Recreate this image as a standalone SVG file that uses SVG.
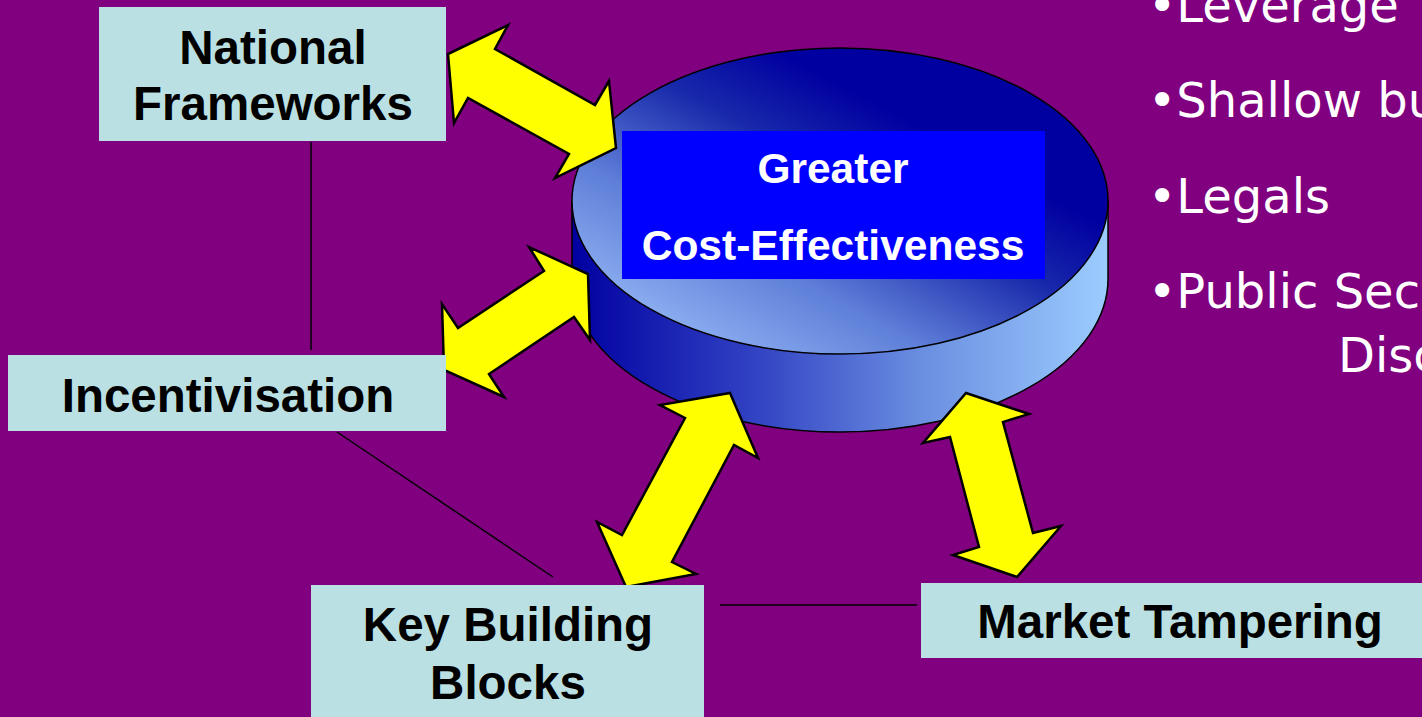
<svg xmlns="http://www.w3.org/2000/svg" width="1422" height="717" viewBox="0 0 1422 717">
<defs>
<linearGradient id="sideGrad" x1="572" y1="0" x2="1108" y2="0" gradientUnits="userSpaceOnUse">
<stop offset="0" stop-color="#0000A0"/>
<stop offset="0.35" stop-color="#3344C4"/>
<stop offset="0.65" stop-color="#6A8EE0"/>
<stop offset="1" stop-color="#9CCCFF"/>
</linearGradient>
<linearGradient id="topGrad" x1="730" y1="350" x2="880" y2="70" gradientUnits="userSpaceOnUse">
<stop offset="0" stop-color="#88AAEE"/>
<stop offset="0.3" stop-color="#5E7ED8"/>
<stop offset="0.65" stop-color="#1828AA"/>
<stop offset="0.9" stop-color="#0000A0"/>
</linearGradient>
<style>
.node rect{fill:#BBE0E3;stroke:none}
.lbl{font-family:"Liberation Sans",Arial,sans-serif;font-weight:bold;font-size:47.5px;fill:#000;text-anchor:middle}
.ctr{font-family:"Liberation Sans",Arial,sans-serif;font-weight:bold;font-size:42.5px;fill:#fff;text-anchor:middle}
.bul{font-family:"DejaVu Sans",Verdana,sans-serif;font-size:48px;fill:#fff}
.arrow{fill:#FFFF00;stroke:#000;stroke-width:2.5;stroke-linejoin:miter}
.conn{stroke:#000;stroke-width:1.5;fill:none}
</style>
</defs>
<rect x="0" y="0" width="1422" height="717" fill="#800080"/>

<g id="bullets">
<text class="bul" x="1148" y="22">•Leverage</text>
<text class="bul" x="1148" y="117">•Shallow bu</text>
<text class="bul" x="1148" y="213">•Legals</text>
<text class="bul" x="1148" y="308">•Public Sec</text>
<text class="bul" x="1338" y="372">Disc</text>
</g>

<g id="connectors">
<line class="conn" x1="311" y1="142" x2="311" y2="350"/>
<line class="conn" x1="337" y1="432" x2="553" y2="577"/>
<line class="conn" x1="720" y1="605" x2="917" y2="605"/>
</g>

<g id="cylinder">
<path d="M572,201 L572,279 A268,153 0 0 0 1108,279 L1108,201 Z" fill="url(#sideGrad)" stroke="#000" stroke-width="1.5"/>
<ellipse cx="840" cy="201" rx="268" ry="153" fill="url(#topGrad)" stroke="#000" stroke-width="1.5"/>
<rect x="622" y="131" width="423" height="148" fill="#0000FF"/>
<text class="ctr" x="833" y="183">Greater</text>
<text class="ctr" x="833" y="260">Cost-Effectiveness</text>
</g>

<g id="arrows">
<polygon class="arrow" points="448,54 508,25 495,49 595,105 609,81 616,148 555,178 569,154 468,98 454,123"/>
<polygon class="arrow" points="588,274 590,340 574,317 489,374 504,397 444,370 442,304 458,328 544,271 529,247"/>
<polygon class="arrow" points="730,393 758,458 734,445 672,562 696,574 626,587 597,522 622,535 685,418 660,405"/>
<polygon class="arrow" points="966,393 1029,414 1003,422 1033,533 1061,526 1017,577 953,555 979,547 950,437 923,443"/>
</g>

<g id="node-national" class="node">
<rect x="99" y="7" width="347" height="134"/>
<text class="lbl" x="273" y="64">National</text>
<text class="lbl" x="273" y="120">Frameworks</text>
</g>
<g id="node-incentivisation" class="node">
<rect x="8" y="355" width="438" height="76"/>
<text class="lbl" x="228" y="412">Incentivisation</text>
</g>
<g id="node-keyblocks" class="node">
<rect x="311" y="585" width="393" height="132"/>
<text class="lbl" x="508" y="641">Key Building</text>
<text class="lbl" x="508" y="699">Blocks</text>
</g>
<g id="node-market" class="node">
<rect x="921" y="583" width="501" height="75"/>
<text class="lbl" x="1180" y="638">Market Tampering</text>
</g>
</svg>
